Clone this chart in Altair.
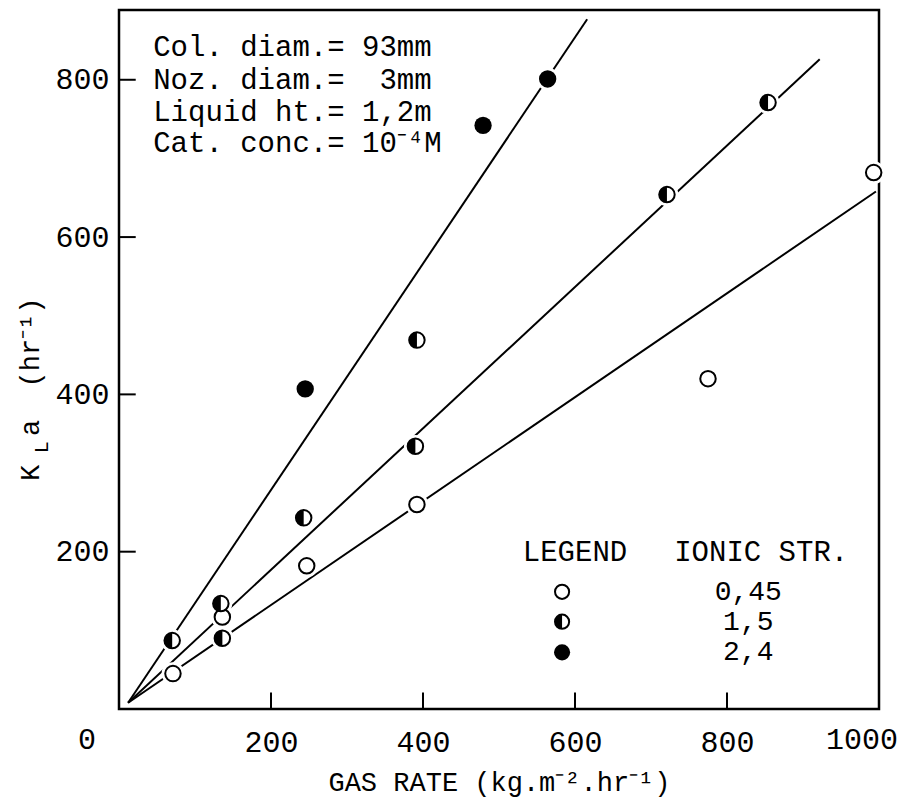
import altair as alt
import pandas as pd

# ---- data ----
open_x = [71, 136, 247, 392, 775, 993]
open_y = [45, 117, 182, 260, 420, 682]
half_x = [70, 136, 134, 243, 390, 392, 721, 854]
half_y = [87, 90, 134, 243, 334, 469, 654, 771]
full_x = [245, 479, 564]
full_y = [407, 742, 801]

line_series = ["0,45", "0,45", "1,5", "1,5", "2,4", "2,4"]
line_x = [12, 996, 12, 922, 12, 616]
line_y = [8, 658, 8, 826, 8, 877]

x_ticks = [200, 400, 600, 800]
y_ticks = [200, 400, 600, 800]

info_lines = ["Col. diam.=\u00a093mm", "Noz. diam.=\u00a0\u00a03mm",
              "Liquid ht.=\u00a01,2m", "Cat. conc.=\u00a010\u207b\u2074M"]
info_y = [842, 800, 759, 720]

legend_labels = ["0,45", "1,5", "2,4"]
legend_y = [149, 111, 72]

FONT = "Liberation Mono"
XMAX, YMAX = 1000, 888.7

xs = alt.Scale(domain=[0, XMAX], nice=False, zero=False)
ys = alt.Scale(domain=[0, YMAX], nice=False, zero=False)

pts = pd.DataFrame(
    {"x": open_x + half_x + full_x,
     "y": open_y + half_y + full_y,
     "s": ["0,45"] * len(open_x) + ["1,5"] * len(half_x) + ["2,4"] * len(full_x)}
)
lines = pd.DataFrame({"s": line_series, "x": line_x, "y": line_y})

X = alt.X("x:Q", scale=xs)
Y = alt.Y("y:Q", scale=ys)

base_axes = alt.Chart(pd.DataFrame({"x": [0], "y": [0]})).mark_point(opacity=0).encode(
    x=alt.X("x:Q", scale=xs,
            axis=alt.Axis(values=x_ticks, format="d", tickSize=0, domain=False, grid=False,
                          labelFont=FONT, labelFontSize=30, labelColor="black",
                          labelPadding=18, labelFlush=False,
                          title="GAS RATE (kg.m\u207b\u00b2.hr\u207b\u00b9)",
                          titleFont=FONT, titleFontSize=27, titleFontWeight="normal",
                          titleColor="black", titlePadding=12)),
    y=alt.Y("y:Q", scale=ys,
            axis=alt.Axis(values=y_ticks, format="d", tickSize=0, domain=False, grid=False,
                          labelFont=FONT, labelFontSize=30, labelColor="black",
                          labelPadding=10, title=None)),
)

line_layer = alt.Chart(lines).mark_line(color="black", strokeWidth=2).encode(
    x=X, y=Y, detail="s:N")

xt = pd.DataFrame({"x": x_ticks, "y": [0] * 4, "y2": [21] * 4})
yt = pd.DataFrame({"y": y_ticks, "x": [0] * 4, "x2": [22] * 4})
xtick_layer = alt.Chart(xt).mark_rule(color="black", strokeWidth=2).encode(
    x=X, y=Y, y2="y2:Q")
ytick_layer = alt.Chart(yt).mark_rule(color="black", strokeWidth=2).encode(
    y=Y, x=X, x2="x2:Q")

halo = alt.Chart(pts).mark_point(shape="circle", filled=True, color="white", size=520, opacity=1).encode(x=X, y=Y)

LEFT_HALF = "M 0 -1 A 1 1 0 0 0 0 1 Z"
SIZE = 240

open_like = alt.Chart(pts).transform_filter("datum.s != '2,4'").mark_point(
    shape="circle", filled=False, stroke="black", fill="white", strokeWidth=2, size=SIZE, opacity=1
).encode(x=X, y=Y)
half_fill = alt.Chart(pts).transform_filter("datum.s == '1,5'").mark_point(
    shape=LEFT_HALF, filled=True, color="black", size=SIZE, opacity=1
).encode(x=X, y=Y)
full = alt.Chart(pts).transform_filter("datum.s == '2,4'").mark_point(
    shape="circle", filled=True, color="black", size=SIZE + 60, opacity=1
).encode(x=X, y=Y)

# info text block
info = pd.DataFrame({"t": info_lines, "x": [45] * 4, "y": info_y})
info_layer = alt.Chart(info).mark_text(font=FONT, fontSize=29, align="left", baseline="middle", color="black").encode(
    x=X, y=Y, text="t:N")

# legend block
leg_head = pd.DataFrame({"t": ["LEGEND", "IONIC STR."], "x": [600, 845], "y": [200, 200]})
leg_head_layer = alt.Chart(leg_head).mark_text(font=FONT, fontSize=29, align="center", baseline="middle", color="black").encode(
    x=X, y=Y, text="t:N")
leg = pd.DataFrame({"t": legend_labels, "x": [828] * 3, "y": legend_y})
leg_text = alt.Chart(leg).mark_text(font=FONT, fontSize=28, align="center", baseline="middle", color="black").encode(
    x=X, y=Y, text="t:N")
leg_sym = pd.DataFrame({"x": [583] * 3, "y": legend_y, "s": legend_labels})
leg_open = alt.Chart(leg_sym).transform_filter("datum.s != '2,4'").mark_point(
    shape="circle", filled=False, stroke="black", fill="white", strokeWidth=2, size=200, opacity=1
).encode(x=X, y=Y)
leg_half = alt.Chart(leg_sym).transform_filter("datum.s == '1,5'").mark_point(
    shape=LEFT_HALF, filled=True, color="black", size=200, opacity=1).encode(x=X, y=Y)
leg_full = alt.Chart(leg_sym).transform_filter("datum.s == '2,4'").mark_point(
    shape="circle", filled=True, color="black", size=260, opacity=1).encode(x=X, y=Y)

# origin "0" and end "1000" labels, placed as in the reference
zero_df = pd.DataFrame({"t": ["0"], "x": [-42], "y": [-40]})
zero_layer = alt.Chart(zero_df).mark_text(font=FONT, fontSize=30, align="center", baseline="middle", color="black").encode(
    x=X, y=Y, text="t:N")
end_df = pd.DataFrame({"t": ["1000"], "x": [1025], "y": [-40]})
end_layer = alt.Chart(end_df).mark_text(font=FONT, fontSize=30, align="right", baseline="middle", color="black").encode(
    x=X, y=Y, text="t:N")

# y title: K with subscript L, then "a (hr-1)"
yt_df = pd.DataFrame({"t": ["K", "a\u00a0\u00a0(hr\u207b\u00b9)"], "x": [-116, -116], "y": [290, 347]})
ytitle = alt.Chart(yt_df).mark_text(font=FONT, fontSize=27, align="left", baseline="middle", angle=270, color="black").encode(
    x=X, y=Y, text="t:N")
ysub_df = pd.DataFrame({"t": ["L"], "x": [-101], "y": [325]})
ysub = alt.Chart(ysub_df).mark_text(font=FONT, fontSize=20, align="left", baseline="middle", angle=270, color="black").encode(
    x=X, y=Y, text="t:N")

chart = alt.layer(
    base_axes, line_layer, xtick_layer, ytick_layer, halo, open_like, half_fill, full,
    info_layer, leg_head_layer, leg_text, leg_open, leg_half, leg_full, zero_layer, end_layer, ytitle, ysub
).properties(
    width=760, height=699,
    autosize=alt.AutoSizeParams(type="none"),
    padding={"left": 111, "top": 2, "right": 22, "bottom": 90},
).configure_view(stroke="black", strokeWidth=2.5)

chart.save("out.html", embed_options={"renderer": "svg", "actions": False})
